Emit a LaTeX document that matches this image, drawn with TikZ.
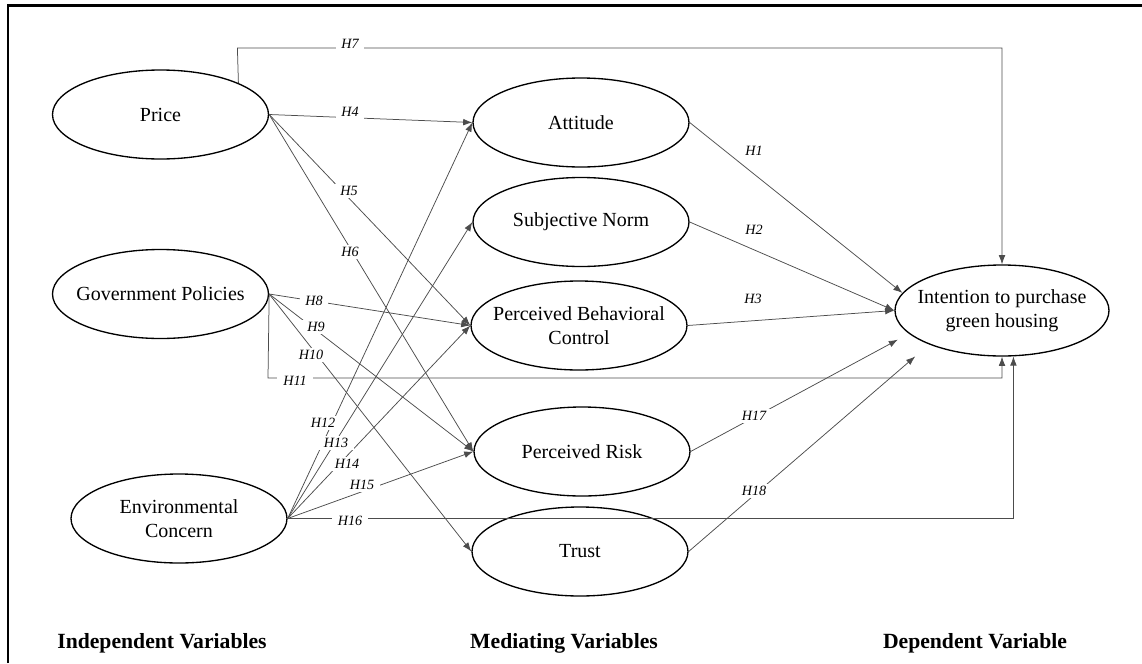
\documentclass[tikz,border=0pt]{standalone}
\usepackage{fontspec}
\setmainfont{Liberation Serif}
\usetikzlibrary{shapes.geometric,arrows.meta}

\begin{document}
\begin{tikzpicture}[x=0.6pt,y=-0.6pt,
  var/.style={draw,ellipse,line width=0.8pt,minimum width=129.6pt,minimum height=53.4pt,
    inner xsep=-14pt,inner ysep=0pt,align=center,font=\fontsize{12}{14.4}\selectfont},
  conn/.style={draw=black!70,line width=0.45pt,-{Latex[length=5.5pt,width=4pt]}},
  hyp/.style={font=\fontsize{8.5}{10}\selectfont\itshape,fill=white,inner xsep=3.5pt,inner ysep=1.5pt},
  title/.style={anchor=base,font=\fontsize{13}{15}\selectfont\bfseries}]
\tikzset{every edge/.style={conn}}
\useasboundingbox (0,0) rectangle (1142,663);

% frame
\draw[line width=1.3pt] (8,663) -- (8,5.5) -- (1142,5.5);

% independent variables
\node (price) at (160.5,114.5) [var] {Price};
\node (gov) at (160.5,294) [var] {Government Policies};
\node (env) at (179,518.5) [var] {Environmental\\Concern};
% mediating variables
\node (att) at (581,122.5) [var] {Attitude};
\node (norm) at (581,222) [var] {Subjective Norm};
\node (pbc) at (579,325.5) [var] {Perceived Behavioral\\Control};
\node (risk) at (582,451.5) [var] {Perceived Risk};
\node (trust) at (580,551.5) [var] {Trust};
% dependent variable
\node (int) at (1002,310.5) [var,minimum width=128.4pt,minimum height=54.6pt] {Intention to purchase\\green housing};

% column titles
\node (tind) at (162,648) [title] {Independent Variables};
\node (tmed) at (564,648) [title] {Mediating Variables};
\node (tdep) at (975,648) [title] {Dependent Variable};

% bends
\coordinate (b7) at (237.4,48);
\coordinate (b11) at (268,378);

\draw[conn] (price.22) -- (b7) -- (b7 -| int.north) -- (int.north);
\draw[conn] (gov.east) -- (b11) -- (b11 -| int.south) -- (int.south);
\draw[conn] (env.east) -- (env.east -| int.-76) -- (int.-76);

\path
(price.east) edge (att.west)
(price.east) edge (pbc.west)
(price.east) edge (risk.west)
(gov.east) edge (pbc.west)
(gov.east) edge (risk.west)
(gov.east) edge (trust.west)
(env.east) edge (att.west)
(env.east) edge (norm.west)
(env.east) edge (pbc.west)
(env.east) edge (risk.west)
(att.east) edge (int.170)
(norm.east) edge (int.west)
(pbc.east) edge (int.west)
(risk.east) edge[shorten >=7.5pt] (int.194)
(trust.east) edge[shorten >=11pt] (int.205);

% hypothesis labels
\node (h1) at (754,151) [hyp] {H1};
\node (h2) at (754,230) [hyp] {H2};
\node (h3) at (753,299) [hyp] {H3};
\node (h4) at (350,112) [hyp] {H4};
\node (h5) at (349,191) [hyp] {H5};
\node (h6) at (350,252) [hyp] {H6};
\node (h7) at (350,44) [hyp] {H7};
\node (h8) at (314,301) [hyp] {H8};
\node (h9) at (316,327) [hyp] {H9};
\node (h10) at (311,355) [hyp] {H10};
\node (h11) at (295,381) [hyp] {H11};
\node (h12) at (323,423) [hyp] {H12};
\node (h13) at (336,443) [hyp] {H13};
\node (h14) at (347,464) [hyp] {H14};
\node (h15) at (362,485) [hyp] {H15};
\node (h16) at (350,521) [hyp] {H16};
\node (h17) at (754,416) [hyp] {H17};
\node (h18) at (754,491) [hyp] {H18};

\end{tikzpicture}
\end{document}
